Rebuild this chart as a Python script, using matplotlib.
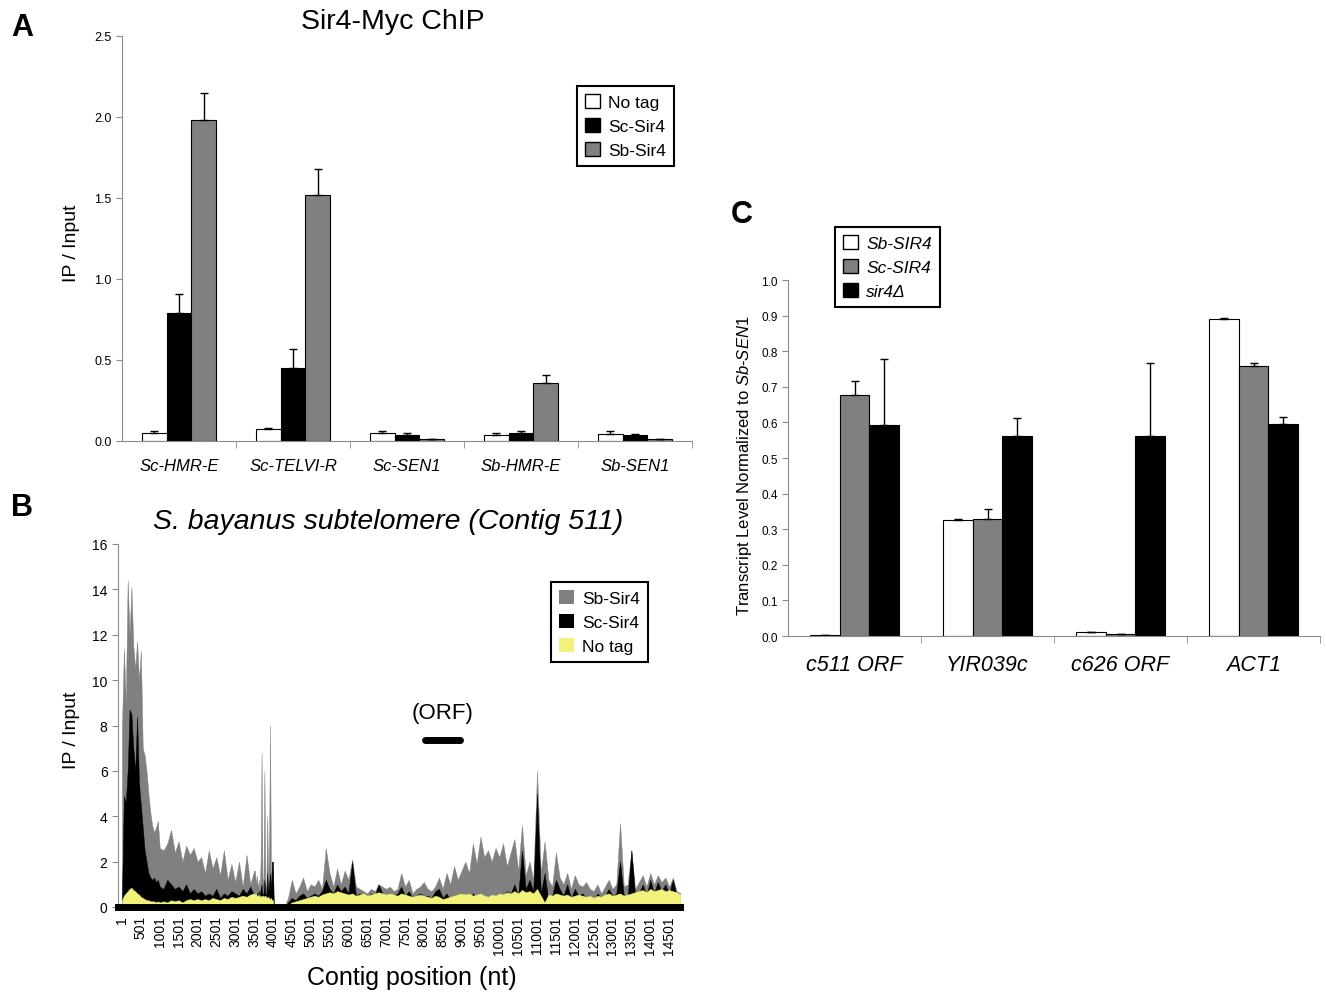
import numpy as np
import matplotlib
matplotlib.use('Agg')
import matplotlib.pyplot as plt
from matplotlib.patches import Patch

plt.rcParams['font.family'] = ['Liberation Sans', 'DejaVu Sans']
plt.rcParams['mathtext.fontset'] = 'custom'
plt.rcParams['mathtext.rm'] = 'Liberation Sans'
plt.rcParams['mathtext.it'] = 'Liberation Sans:italic'

# ---- panel A: Sir4-Myc ChIP ----
a_sites = ['Sc-HMR-E', 'Sc-TELVI-R', 'Sc-SEN1', 'Sb-HMR-E', 'Sb-SEN1']
a_series = ['No tag', 'Sc-Sir4', 'Sb-Sir4']
a_notag = [0.05, 0.075, 0.05, 0.035, 0.045]
a_notag_err = [0.01, 0.005, 0.01, 0.015, 0.015]
a_sc = [0.79, 0.45, 0.04, 0.05, 0.04]
a_sc_err = [0.12, 0.12, 0.01, 0.01, 0.005]
a_sb = [1.98, 1.52, 0.015, 0.36, 0.012]
a_sb_err = [0.17, 0.16, 0.0, 0.05, 0.0]

# ---- panel B: S. bayanus subtelomere (Contig 511) ----
# telomere-proximal end, every 50 nt
b_pos1 = np.arange(1, 1002, 50)
b_sb1 = [8.0, 11.4, 9.0, 14.4, 12.0, 14.1, 11.5, 10.5, 11.7, 10.0, 11.3,
         7.0, 6.7, 6.0, 5.0, 4.2, 3.6, 3.3, 3.5, 3.8, 2.6]
b_sc1 = [0.6, 4.9, 4.6, 6.0, 8.7, 8.5, 7.0, 6.0, 8.4, 5.5, 4.5,
         3.5, 2.5, 2.0, 1.5, 1.3, 1.2, 1.3, 1.1, 1.2, 0.9]
b_no1 = [0.3, 0.5, 0.6, 0.7, 0.8, 0.85, 0.75, 0.7, 0.6, 0.55, 0.45,
         0.4, 0.35, 0.3, 0.3, 0.25, 0.25, 0.25, 0.2, 0.25, 0.2]
# 1101-3501, every 100 nt
b_pos2 = np.arange(1101, 3502, 100)
b_sb2 = [2.5, 2.8, 3.4, 2.4, 2.9, 2.0, 2.7, 2.3, 2.6, 2.0,
         2.2, 1.5, 2.5, 1.7, 2.2, 1.4, 2.5, 1.2, 1.9, 1.1,
         2.0, 0.9, 2.3, 1.0, 1.6]
b_sc2 = [0.8, 1.2, 1.0, 0.8, 0.9, 0.7, 1.0, 0.6, 0.8, 0.6,
         0.7, 0.5, 0.6, 0.5, 0.8, 0.4, 0.6, 0.5, 0.7, 0.6,
         0.5, 0.8, 0.6, 0.9, 0.5]
b_no2 = [0.25, 0.2, 0.3, 0.25, 0.3, 0.2, 0.3, 0.35, 0.3, 0.35,
         0.3, 0.35, 0.3, 0.4, 0.35, 0.3, 0.4, 0.35, 0.45, 0.4,
         0.45, 0.5, 0.45, 0.55, 0.6]
# spike cluster near 4001, every 25 nt
b_pos3 = np.arange(3525, 4076, 25)
b_sb3 = [1.6, 1.0, 1.4, 0.8, 1.2, 0.7, 2.0, 6.8, 1.0, 1.3, 6.0, 1.0,
         0.9, 4.0, 1.0, 3.0, 8.0, 1.0, 2.0, 2.0, 0.0, 0.0, 0.0]
b_sc3 = [0.5, 0.4, 0.6, 0.5, 0.7, 0.4, 0.8, 1.0, 0.5, 0.6, 1.2, 0.6,
         0.5, 1.5, 0.6, 1.0, 1.5, 0.7, 2.0, 2.0, 0.0, 0.0, 0.0]
b_no3 = [0.55, 0.6, 0.5, 0.5, 0.55, 0.45, 0.5, 0.45, 0.5, 0.5, 0.45, 0.5,
         0.45, 0.4, 0.45, 0.4, 0.35, 0.4, 0.3, 0.3, 0.0, 0.0, 0.0]
# 4101-14801, every 100 nt
b_pos4 = np.arange(4101, 14802, 100)
b_sb4 = [0.0, 0.0, 0.0, 0.4, 1.2, 0.6, 0.9, 1.3, 0.7, 1.0,
         0.9, 1.2, 0.8, 2.6, 1.5, 0.9, 1.7, 1.0, 1.6, 1.2,
         2.1, 0.9, 0.8, 0.7, 0.6, 0.8, 0.7, 1.0, 0.9, 0.8,
         0.9, 0.7, 0.8, 1.5, 0.9, 1.2, 0.6, 0.8, 0.9, 1.1,
         0.8, 0.7, 0.9, 1.3, 0.8, 1.5, 1.0, 1.8, 1.2, 1.6,
         2.0, 1.5, 2.8, 1.9, 3.1, 2.2, 2.5, 2.0, 2.6, 2.2,
         2.8, 1.8, 2.4, 3.0, 1.6, 3.6, 1.4, 2.0, 1.2, 6.0,
         1.5, 2.9, 1.2, 0.9, 2.4, 1.3, 1.0, 1.5, 0.8, 1.4,
         1.0, 0.9, 1.1, 0.8, 0.7, 1.0, 0.6, 0.9, 1.2, 0.8,
         1.0, 3.7, 0.9, 1.0, 2.5, 0.8, 1.1, 1.4, 0.9, 1.5,
         1.0, 1.4, 1.1, 1.3, 0.9, 1.3, 0.7, 0.6]
b_sc4 = [0.0, 0.0, 0.0, 0.2, 0.4, 0.3, 0.5, 0.6, 0.4, 0.5,
         0.6, 0.5, 0.7, 1.2, 0.8, 0.6, 1.0, 0.7, 0.9, 0.6,
         2.0, 0.5, 0.6, 0.5, 0.4, 0.6, 0.5, 1.0, 0.6, 0.5,
         0.6, 0.5, 0.6, 0.9, 0.5, 0.7, 0.4, 0.5, 0.6, 0.5,
         0.5, 0.4, 0.7, 0.8, 0.4, 0.6, 0.3, 0.5, 0.4, 0.6,
         0.5, 0.4, 0.6, 0.4, 0.5, 0.3, 0.4, 0.5, 0.3, 0.6,
         0.5, 0.7, 0.6, 1.0, 0.5, 2.5, 0.8, 1.2, 0.7, 5.0,
         0.6, 1.5, 0.3, 0.5, 1.2, 0.8, 0.5, 1.0, 0.4, 0.8,
         0.5, 0.6, 0.4, 0.5, 0.3, 0.6, 0.4, 0.5, 0.8, 0.5,
         0.6, 2.0, 0.5, 0.4, 2.5, 0.5, 0.6, 1.0, 0.5, 1.2,
         0.6, 1.1, 0.7, 1.0, 0.6, 1.2, 0.5, 0.4]
b_no4 = [0.0, 0.0, 0.0, 0.1, 0.2, 0.25, 0.3, 0.35, 0.4, 0.45,
         0.5, 0.45, 0.55, 0.6, 0.65, 0.6, 0.7, 0.65, 0.6, 0.55,
         0.6, 0.5, 0.55, 0.6, 0.5, 0.55, 0.6, 0.65, 0.6, 0.55,
         0.6, 0.55, 0.5, 0.6, 0.55, 0.5, 0.45, 0.5, 0.55, 0.5,
         0.45, 0.4, 0.5, 0.45, 0.35, 0.4, 0.45, 0.5, 0.55, 0.6,
         0.55, 0.6, 0.5, 0.55, 0.6, 0.5, 0.45, 0.55, 0.5, 0.6,
         0.55, 0.65, 0.6, 0.7, 0.6, 0.75, 0.65, 0.7, 0.6, 0.8,
         0.5, 0.2, 0.55, 0.5, 0.6, 0.55, 0.5, 0.55, 0.45, 0.5,
         0.55, 0.5, 0.45, 0.5, 0.4, 0.5, 0.45, 0.55, 0.6, 0.5,
         0.55, 0.6, 0.5, 0.55, 0.6, 0.65, 0.7, 0.75, 0.65, 0.8,
         0.7, 0.75, 0.8, 0.7, 0.75, 0.7, 0.65, 0.55]
b_ticks = np.arange(1, 14502, 500)
b_orf = [8040, 8965]

# ---- panel C: transcript levels ----
c_genes = ['c511 ORF', 'YIR039c', 'c626 ORF', 'ACT1']
c_sb = [0.002, 0.325, 0.011, 0.890]
c_sb_err = [0.0, 0.005, 0.001, 0.003]
c_sc = [0.677, 0.328, 0.007, 0.758]
c_sc_err = [0.04, 0.03, 0.0, 0.01]
c_del = [0.592, 0.561, 0.563, 0.596]
c_del_err = [0.187, 0.05, 0.205, 0.018]

GRAY = '#808080'
YELLOW = '#f2f27a'
AXGRAY = '#8c8c8c'

W, H = 1326, 995
fig = plt.figure(figsize=(W / 100, H / 100), dpi=100)


def box(l, t, r, b):
    return [l / W, 1 - b / H, (r - l) / W, (b - t) / H]


def bar_axes(ax):
    for s in ['top', 'right']:
        ax.spines[s].set_visible(False)
    for s in ['left', 'bottom']:
        ax.spines[s].set_color(AXGRAY)
    ax.tick_params(axis='y', direction='out', length=4, color=AXGRAY)
    ax.tick_params(axis='x', which='major', length=0)
    ax.tick_params(axis='x', which='minor', length=5, color=AXGRAY, direction='out')


def boxed_legend(ax, handles, labels, anchor, **kw):
    lg = ax.legend(handles, labels, loc='upper left', bbox_to_anchor=anchor,
                   fancybox=False, edgecolor='black', framealpha=1,
                   handlelength=0.9, handleheight=0.9, handletextpad=0.45,
                   borderpad=0.45, labelspacing=0.45, borderaxespad=0, **kw)
    lg.get_frame().set_linewidth(1.5)


# ---------------- A ----------------
ax = fig.add_axes(box(122, 37, 692, 442))
x = np.arange(len(a_sites))
w = 0.215
ekw = dict(elinewidth=1.0, capsize=3, capthick=1.0, ecolor='black')
z = np.zeros(len(x))
ax.bar(x - w, a_notag, w, color='white', edgecolor='black', lw=0.8,
       yerr=[z, a_notag_err], error_kw=ekw)
ax.bar(x, a_sc, w, color='black', edgecolor='black', lw=0.8,
       yerr=[z, a_sc_err], error_kw=ekw)
ax.bar(x + w, a_sb, w, color=GRAY, edgecolor='black', lw=0.8,
       yerr=[z, a_sb_err], error_kw=ekw)
ax.set_xlim(-0.5, len(x) - 0.5)
ax.set_ylim(0, 2.5)
ax.set_yticks(np.arange(0, 2.51, 0.5))
ax.set_yticklabels(['%.1f' % v for v in np.arange(0, 2.51, 0.5)], fontsize=9)
ax.set_xticks(x)
ax.set_xticklabels(a_sites, style='italic', fontsize=12)
ax.set_xticks(np.arange(0.5, len(x), 1), minor=True)
bar_axes(ax)
ax.tick_params(axis='x', which='major', pad=12)
hs = [Patch(facecolor='white', edgecolor='black'),
      Patch(facecolor='black', edgecolor='black'),
      Patch(facecolor=GRAY, edgecolor='black')]
boxed_legend(ax, hs, a_series, ((577 - 122) / 570, (442 - 87) / 405), fontsize=12.5)

# ---------------- B ----------------
ax = fig.add_axes(box(118, 545, 680, 908))
pos = np.concatenate([b_pos1, b_pos2, b_pos3, b_pos4])
sb = np.concatenate([b_sb1, b_sb2, b_sb3, b_sb4])
sc = np.concatenate([b_sc1, b_sc2, b_sc3, b_sc4])
no = np.concatenate([b_no1, b_no2, b_no3, b_no4])
ax.fill_between(pos, 0, sb, color=GRAY, lw=0.3)
ax.fill_between(pos, 0, sc, color='black', lw=0.3)
ax.fill_between(pos, 0, no, color=YELLOW, lw=0.3)
ax.plot(b_orf, [7.36, 7.36], color='black', lw=5, solid_capstyle='round')
ax.text(np.mean(b_orf), 8.1, '(ORF)', ha='center', va='bottom', fontsize=16)
ax.set_xlim(-105, 14790)
ax.set_ylim(0, 16)
ax.set_yticks(range(0, 17, 2))
ax.tick_params(axis='y', labelsize=10, length=4, color=AXGRAY)
ax.set_xticks(b_ticks)
ax.set_xticklabels([str(t) for t in b_ticks], rotation=90, fontsize=10)
ax.tick_params(axis='x', length=0, pad=6)
for s in ['top', 'right']:
    ax.spines[s].set_visible(False)
ax.spines['left'].set_color(AXGRAY)
ax.spines['bottom'].set_linewidth(5)
ax.spines['bottom'].set_color('black')
hs = [Patch(facecolor=GRAY), Patch(facecolor='black'), Patch(facecolor=YELLOW)]
boxed_legend(ax, hs, ['Sb-Sir4', 'Sc-Sir4', 'No tag'],
             ((551 - 118) / 562, (908 - 583) / 363), fontsize=12.5)

# ---------------- C ----------------
ax = fig.add_axes(box(788, 281, 1320, 637))
x = np.arange(len(c_genes))
w = 0.222
z = np.zeros(len(x))
ax.bar(x - w, c_sb, w, color='white', edgecolor='black', lw=0.8,
       yerr=[z, c_sb_err], error_kw=ekw)
ax.bar(x, c_sc, w, color=GRAY, edgecolor='black', lw=0.8,
       yerr=[z, c_sc_err], error_kw=ekw)
ax.bar(x + w, c_del, w, color='black', edgecolor='black', lw=0.8,
       yerr=[z, c_del_err], error_kw=ekw)
ax.set_xlim(-0.5, len(x) - 0.5)
ax.set_ylim(0, 1.0)
ax.set_yticks(np.arange(0, 1.01, 0.1))
ax.set_yticklabels(['%.1f' % v for v in np.arange(0, 1.01, 0.1)], fontsize=8.5)
ax.set_xticks(x)
ax.set_xticklabels(c_genes, style='italic', fontsize=15.5)
ax.set_xticks(np.arange(0.5, len(x), 1), minor=True)
bar_axes(ax)
ax.tick_params(axis='x', which='major', pad=13)
hs = [Patch(facecolor='white', edgecolor='black'),
      Patch(facecolor=GRAY, edgecolor='black'),
      Patch(facecolor='black', edgecolor='black')]
boxed_legend(ax, hs, ['Sb-SIR4', 'Sc-SIR4', 'sir4Δ'],
             ((835 - 788) / 532, (637 - 228) / 356),
             prop={'style': 'italic', 'size': 12.5})

# ---------------- labels ----------------
fig.text(22 / W, 1 - 28 / H, 'A', fontsize=22, fontweight='bold', ha='center', va='center')
fig.text(22 / W, 1 - 508 / H, 'B', fontsize=22, fontweight='bold', ha='center', va='center')
fig.text(742 / W, 1 - 215 / H, 'C', fontsize=22, fontweight='bold', ha='center', va='center')
fig.text(393 / W, 1 - 22 / H, 'Sir4-Myc ChIP', fontsize=20.5, ha='center', va='center')
fig.text(388 / W, 1 - 522 / H, 'S. bayanus subtelomere (Contig 511)', fontsize=20.5,
         style='italic', ha='center', va='center')
fig.text(72 / W, 1 - 243 / H, 'IP / Input', fontsize=14, rotation=90, ha='center', va='center')
fig.text(72 / W, 1 - 730 / H, 'IP / Input', fontsize=14, rotation=90, ha='center', va='center')
fig.text(412 / W, 1 - 978 / H, 'Contig position (nt)', fontsize=18, ha='center', va='center')
fig.text(745 / W, 1 - 466 / H, r'Transcript Level Normalized to $\mathit{Sb}$-$\mathit{SEN1}$',
         fontsize=12, rotation=90, ha='center', va='center')

fig.savefig('out.png', dpi=100)
